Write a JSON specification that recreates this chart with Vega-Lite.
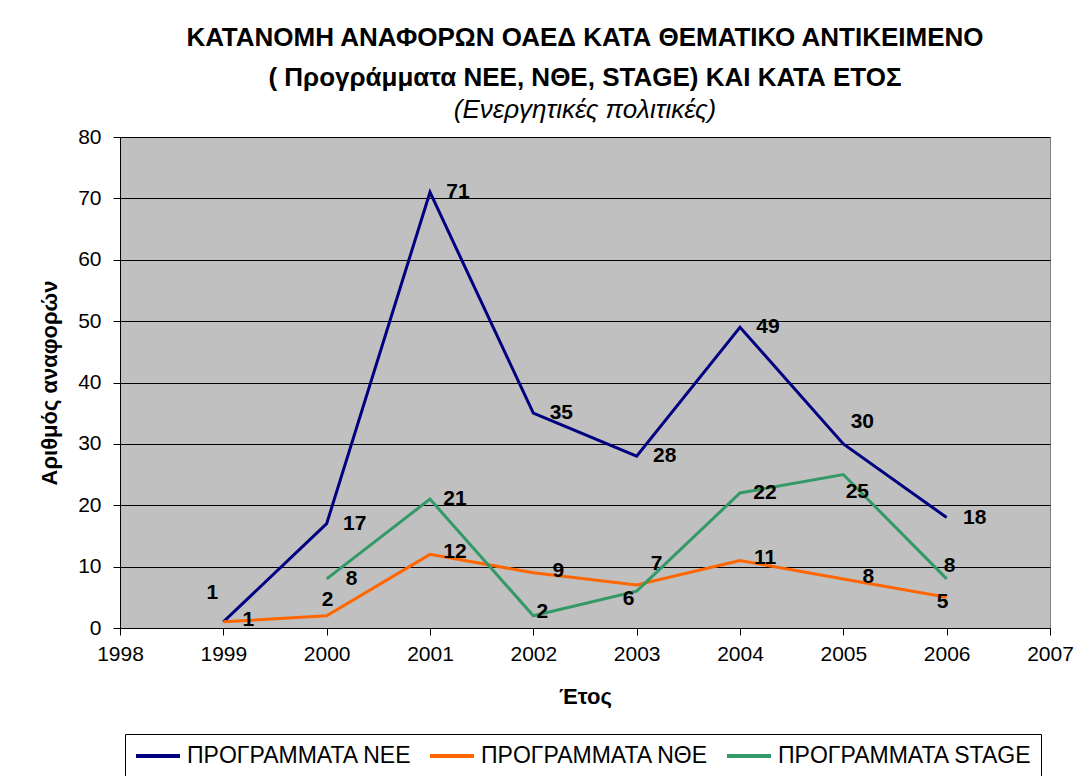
{
  "$schema": "https://vega.github.io/schema/vega-lite/v6.json",
  "width": 930,
  "height": 491,
  "autosize": {"type": "none"},
  "padding": {"left": 120, "top": 137, "right": 30, "bottom": 148},
  "background": "white",
  "title": {
    "text": ["ΚΑΤΑΝΟΜΗ ΑΝΑΦΟΡΩΝ ΟΑΕΔ ΚΑΤΑ ΘΕΜΑΤΙΚΟ ΑΝΤΙΚΕΙΜΕΝΟ", "( Προγράμματα ΝΕΕ, ΝΘΕ, STAGE)  ΚΑΙ ΚΑΤΑ ΕΤΟΣ"],
    "subtitle": "(Ενεργητικές πολιτικές)",
    "font": "Liberation Sans",
    "fontSize": 26,
    "fontWeight": "bold",
    "lineHeight": 40,
    "color": "black",
    "subtitleFont": "Liberation Sans",
    "subtitleFontSize": 26,
    "subtitleFontStyle": "italic",
    "subtitleColor": "black",
    "subtitlePadding": 6,
    "offset": 3,
    "anchor": "middle"
  },
  "data": {
    "values": [
      {"year": 1999, "series": "ΠΡΟΓΡΑΜΜΑΤΑ ΝΕΕ", "value": 1},
      {"year": 2000, "series": "ΠΡΟΓΡΑΜΜΑΤΑ ΝΕΕ", "value": 17},
      {"year": 2001, "series": "ΠΡΟΓΡΑΜΜΑΤΑ ΝΕΕ", "value": 71},
      {"year": 2002, "series": "ΠΡΟΓΡΑΜΜΑΤΑ ΝΕΕ", "value": 35},
      {"year": 2003, "series": "ΠΡΟΓΡΑΜΜΑΤΑ ΝΕΕ", "value": 28},
      {"year": 2004, "series": "ΠΡΟΓΡΑΜΜΑΤΑ ΝΕΕ", "value": 49},
      {"year": 2005, "series": "ΠΡΟΓΡΑΜΜΑΤΑ ΝΕΕ", "value": 30},
      {"year": 2006, "series": "ΠΡΟΓΡΑΜΜΑΤΑ ΝΕΕ", "value": 18},
      {"year": 1999, "series": "ΠΡΟΓΡΑΜΜΑΤΑ ΝΘΕ", "value": 1},
      {"year": 2000, "series": "ΠΡΟΓΡΑΜΜΑΤΑ ΝΘΕ", "value": 2},
      {"year": 2001, "series": "ΠΡΟΓΡΑΜΜΑΤΑ ΝΘΕ", "value": 12},
      {"year": 2002, "series": "ΠΡΟΓΡΑΜΜΑΤΑ ΝΘΕ", "value": 9},
      {"year": 2003, "series": "ΠΡΟΓΡΑΜΜΑΤΑ ΝΘΕ", "value": 7},
      {"year": 2004, "series": "ΠΡΟΓΡΑΜΜΑΤΑ ΝΘΕ", "value": 11},
      {"year": 2005, "series": "ΠΡΟΓΡΑΜΜΑΤΑ ΝΘΕ", "value": 8},
      {"year": 2006, "series": "ΠΡΟΓΡΑΜΜΑΤΑ ΝΘΕ", "value": 5},
      {"year": 2000, "series": "ΠΡΟΓΡΑΜΜΑΤΑ STAGE", "value": 8},
      {"year": 2001, "series": "ΠΡΟΓΡΑΜΜΑΤΑ STAGE", "value": 21},
      {"year": 2002, "series": "ΠΡΟΓΡΑΜΜΑΤΑ STAGE", "value": 2},
      {"year": 2003, "series": "ΠΡΟΓΡΑΜΜΑΤΑ STAGE", "value": 6},
      {"year": 2004, "series": "ΠΡΟΓΡΑΜΜΑΤΑ STAGE", "value": 22},
      {"year": 2005, "series": "ΠΡΟΓΡΑΜΜΑΤΑ STAGE", "value": 25},
      {"year": 2006, "series": "ΠΡΟΓΡΑΜΜΑΤΑ STAGE", "value": 8}
    ]
  },
  "encoding": {
    "x": {
      "field": "year",
      "type": "quantitative",
      "scale": {"domain": [1998, 2007], "nice": false, "zero": false},
      "axis": {
        "title": "Έτος",
        "values": [1998, 1999, 2000, 2001, 2002, 2003, 2004, 2005, 2006, 2007],
        "format": "d",
        "grid": false,
        "domainColor": "black",
        "tickColor": "black",
        "tickSize": 7,
        "labelFont": "Liberation Sans",
        "labelFontSize": 21,
        "labelColor": "black",
        "labelPadding": 8,
        "labelFlush": false,
        "titleFont": "Liberation Sans",
        "titleFontSize": 22,
        "titleFontWeight": "bold",
        "titleColor": "black",
        "titlePadding": 22
      }
    },
    "y": {
      "field": "value",
      "type": "quantitative",
      "scale": {"domain": [0, 80], "nice": false},
      "axis": {
        "title": "Αριθμός αναφορών",
        "values": [0, 10, 20, 30, 40, 50, 60, 70, 80],
        "grid": true,
        "gridColor": "black",
        "gridWidth": 1,
        "domainColor": "black",
        "tickColor": "black",
        "tickSize": 7,
        "labelFont": "Liberation Sans",
        "labelFontSize": 21,
        "labelColor": "black",
        "labelPadding": 12,
        "titleFont": "Liberation Sans",
        "titleFontSize": 22,
        "titleFontWeight": "bold",
        "titleColor": "black",
        "titlePadding": 16
      }
    },
    "color": {
      "field": "series",
      "type": "nominal",
      "scale": {
        "domain": ["ΠΡΟΓΡΑΜΜΑΤΑ ΝΕΕ", "ΠΡΟΓΡΑΜΜΑΤΑ ΝΘΕ", "ΠΡΟΓΡΑΜΜΑΤΑ STAGE"],
        "range": ["#000080", "#FF6600", "#339966"]
      },
      "legend": {
        "title": null,
        "orient": "none",
        "legendX": 5,
        "legendY": 597,
        "direction": "horizontal",
        "strokeColor": "black",
        "padding": 9,
        "symbolType": "M-2,0H2",
        "symbolStrokeWidth": 4,
        "symbolSize": 484,
        "symbolOffset": 11,
        "symbolFillColor": "transparent",
        "labelFont": "Liberation Sans",
        "labelFontSize": 23,
        "labelLimit": 0,
        "labelColor": "black",
        "labelOffset": 16,
        "columnPadding": 10,
        "fillColor": "white"
      }
    }
  },
  "layer": [
    {"mark": {"type": "line", "strokeWidth": 3}},
    {
      "mark": {
        "type": "text",
        "dx": {"expr": "datum.series == 'ΠΡΟΓΡΑΜΜΑΤΑ ΝΕΕ' ? (datum.year == 1999 ? -11 : datum.year == 2005 ? 19 : 28) : datum.series == 'ΠΡΟΓΡΑΜΜΑΤΑ ΝΘΕ' ? (datum.year == 2000 ? 1 : datum.year == 2003 ? 20 : datum.year == 2006 ? -4 : 25) : (datum.year == 2002 ? 9 : datum.year == 2003 ? -8 : datum.year == 2005 ? 14 : datum.year == 2006 ? 3 : 25)"},
        "dy": {"expr": "datum.series == 'ΠΡΟΓΡΑΜΜΑΤΑ ΝΕΕ' ? (datum.year == 1999 ? -29 : datum.year == 2005 ? -22 : 0) : datum.series == 'ΠΡΟΓΡΑΜΜΑΤΑ ΝΘΕ' ? (datum.year == 2000 ? -16 : datum.year == 2003 ? -21 : datum.year == 2006 ? 5 : -2) : (datum.year == 2002 ? -4 : datum.year == 2003 ? 8 : datum.year == 2005 ? 17 : datum.year == 2006 ? -13 : 0)"},
        "align": "center",
        "baseline": "middle",
        "font": "Liberation Sans",
        "fontSize": 21,
        "fontWeight": "bold",
        "color": "black"
      },
      "encoding": {
        "text": {"field": "value", "type": "quantitative"},
        "color": {"value": "black"}
      }
    }
  ],
  "config": {
    "view": {"fill": "#C0C0C0", "stroke": "#808080", "strokeWidth": 1}
  }
}
